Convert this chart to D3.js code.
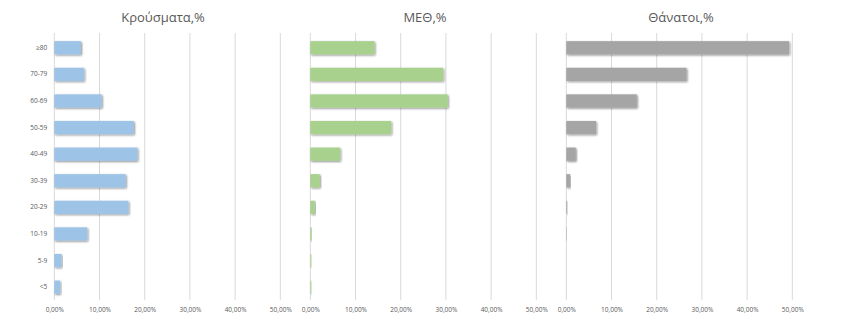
<!DOCTYPE html>
<html><head><meta charset="utf-8">
<script src="https://cdn.jsdelivr.net/npm/d3@7"></script>
<style>body{margin:0;background:#fff;font-family:"Open Sans","Noto Sans",sans-serif;}</style>
</head><body><svg id="c" width="841" height="330"></svg>
<script>
const categories = ["≥80","70-79","60-69","50-59","40-49","30-39","20-29","10-19","5-9","<5"];
const titles = ["Κρούσματα,%","ΜΕΘ,%","Θάνατοι,%"];
const cases = [0.059,0.066,0.105,0.176,0.184,0.158,0.164,0.073,0.016,0.013];
const icu = [0.142,0.294,0.304,0.179,0.066,0.021,0.010,0.003,0.002,0.002];
const deaths = [0.493,0.266,0.156,0.066,0.021,0.008,0.002,0.001,0.0,0.0];
const tickValues = [0,0.1,0.2,0.3,0.4,0.5];
const colors = ["#9dc3e6","#a9d18e","#a5a5a5"];
const series = [cases, icu, deaths];

const svg = d3.select("#c");
const defs = svg.append("defs");
const f = defs.append("filter").attr("id","sh").attr("x","-10%").attr("y","-40%").attr("width","130%").attr("height","200%");
f.append("feGaussianBlur").attr("in","SourceAlpha").attr("stdDeviation",1.2).attr("result","b");
f.append("feOffset").attr("in","b").attr("dx",1).attr("dy",1.2).attr("result","o");
f.append("feComponentTransfer").attr("in","o").attr("result","o2").append("feFuncA").attr("type","linear").attr("slope",0.45);
const m = f.append("feMerge"); m.append("feMergeNode").attr("in","o2"); m.append("feMergeNode").attr("in","SourceGraphic");

const loc = d3.formatLocale({decimal:",",thousands:".",grouping:[3],currency:["","€"]});
const fmt = loc.format(".2%");
const y = d3.scaleBand().domain(categories).range([34.5,300.5]).paddingInner(0.5).paddingOuter(0.25);
const x0s = [54.3, 310.3, 566.3];
const titleOffsets = [108.7, 114.7, 114.7];
const W = 226;

series.forEach((vals, i) => {
  const x = d3.scaleLinear().domain([0,0.5]).range([x0s[i], x0s[i]+W]);
  const g = svg.append("g");
  g.selectAll("line.grid").data(tickValues).join("line")
    .attr("x1", d=>x(d)).attr("x2", d=>x(d)).attr("y1",33).attr("y2",300)
    .attr("stroke","#d9d9d9").attr("stroke-width",1);
  const ax = d3.axisBottom(x).tickValues(tickValues).tickFormat(fmt).tickSize(0).tickPadding(0);
  const axg = g.append("g").attr("transform","translate(0,307)").call(ax);
  axg.select(".domain").remove();
  axg.selectAll("text").attr("fill","#595959").attr("font-size","6.5px").attr("font-family","Open Sans, sans-serif");
  g.selectAll("rect").data(vals).join("rect")
    .attr("x", x(0)).attr("y",(d,j)=>y(categories[j]))
    .attr("width", d=>Math.max(0, x(d)-x(0))).attr("height", y.bandwidth())
    .attr("fill", colors[i]).attr("filter","url(#sh)");
  svg.append("text").attr("x", x(0)+titleOffsets[i]).attr("y",21.5).attr("text-anchor","middle")
    .attr("fill","#595959").attr("font-size","13px").attr("font-family","Open Sans, sans-serif").text(titles[i]);
  if (i===0) {
    const ay = d3.axisLeft(y).tickSize(0).tickPadding(7);
    const yg = svg.append("g").attr("transform",`translate(${x(0)},0)`).call(ay);
    yg.select(".domain").remove();
    yg.selectAll("text").attr("fill","#595959").attr("font-size","6.5px").attr("font-family","Open Sans, sans-serif");
  }
});
</script></body></html>
